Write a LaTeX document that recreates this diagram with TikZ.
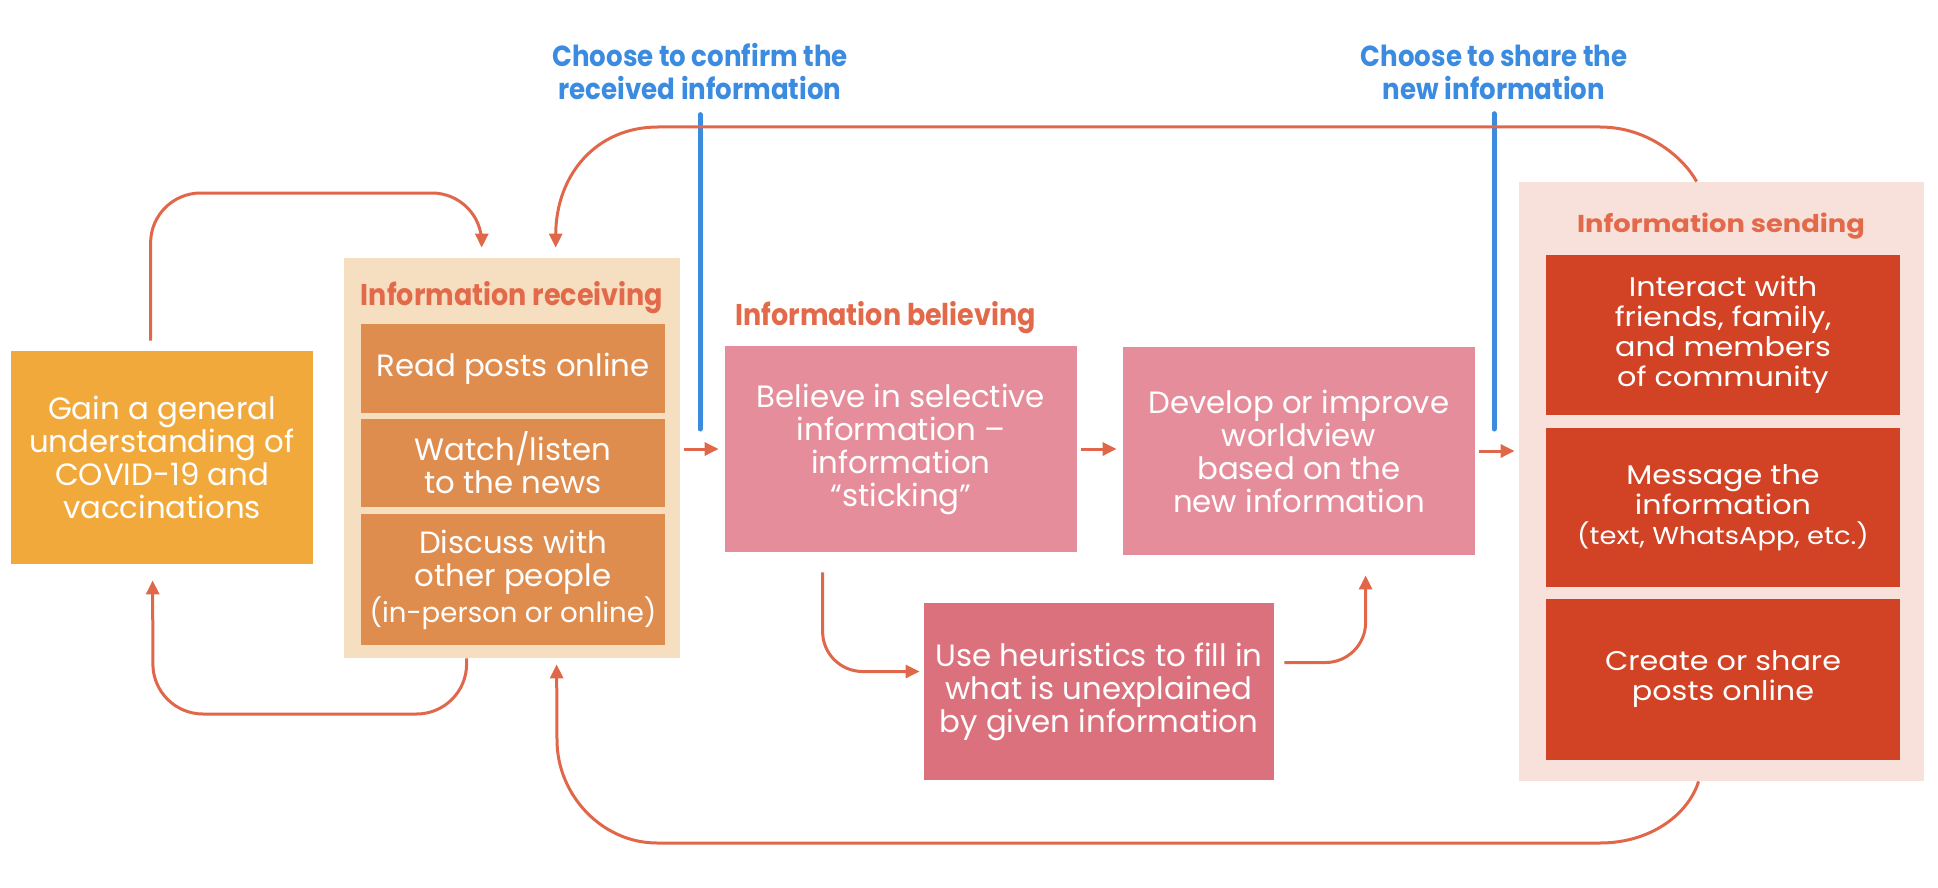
\documentclass[tikz,border=0pt]{standalone}
\usepackage{fontspec}
\setmainfont{Poppins}
\newfontfamily\headfont[FakeStretch=0.9]{Poppins}
\newfontfamily\widefont[FakeStretch=1.12]{Poppins}
\usetikzlibrary{arrows.meta, calc}

\definecolor{gainfill}{HTML}{F2A93B}
\definecolor{recvback}{HTML}{F6DFC0}
\definecolor{recvfill}{HTML}{DF8D4F}
\definecolor{headcol}{HTML}{E26A4B}
\definecolor{believefill}{HTML}{E68D9B}
\definecolor{heurfill}{HTML}{DB717D}
\definecolor{sendback}{HTML}{F8E1DB}
\definecolor{sendfill}{HTML}{D24326}
\definecolor{choosecol}{HTML}{3B8BE0}
\definecolor{flowcol}{HTML}{E0674A}

\tikzset{
  stagebox/.style={inner sep=0pt, align=center, text=white},
  narrowtext/.style={font=\fontsize{15.4}{16.5}\selectfont},
  widetext/.style={font=\widefont\fontsize{13.5}{15}\selectfont},
  stagehead/.style={text=headcol, inner sep=0pt},
  flowline/.style={draw=flowcol, line width=1.5pt},
  flowarrow/.style={flowline, -{Triangle[length=7pt,width=6.5pt]}},
  chooseline/.style={draw=choosecol, line width=2.5pt, line cap=round},
  chooselabel/.style={text=choosecol, align=center, inner sep=0pt,
    font=\headfont\bfseries\fontsize{14.5}{16.5}\selectfont}
}

\begin{document}
\begin{tikzpicture}[x=0.5pt, y=-0.5pt]
  \useasboundingbox (0,0) rectangle (1938,888);

  % background panels
  \fill[recvback] (344,258) rectangle (680,658);
  \fill[sendback] (1519,182) rectangle (1924,781);
  \node[stagehead, font=\headfont\bfseries\fontsize{15}{17}\selectfont] (recvhead) at (512,298) {Information receiving};
  \node[stagehead, font=\headfont\bfseries\fontsize{15}{17}\selectfont, anchor=west] (belhead) at (735,318) {Information believing};
  \node[stagehead, font=\widefont\bfseries\fontsize{12.2}{15}\selectfont] (sendhead) at (1721,226) {Information sending};
  \node[minimum width=168pt, minimum height=200pt, inner sep=0pt] (recv) at (512,458) {};
  \node[minimum width=202.5pt, minimum height=299.5pt, inner sep=0pt] (send) at (1721.5,481.5) {};

  % stages
  \node[stagebox, narrowtext, fill=gainfill, minimum width=151pt, minimum height=106.5pt] (gain) at (162,457.5)
    {Gain a general\\understanding of\\COVID-19 and\\vaccinations};
  \node[stagebox, narrowtext, fill=recvfill, minimum width=152pt, minimum height=44.5pt] (read) at (513,368.5)
    {Read posts online};
  \node[stagebox, narrowtext, fill=recvfill, minimum width=152pt, minimum height=44pt] (watch) at (513,463)
    {Watch/listen\\to the news};
  \node[stagebox, narrowtext, fill=recvfill, minimum width=152pt, minimum height=65.5pt] (discuss) at (513,579.5)
    {Discuss with\\other people\\{\fontsize{13.8}{14}\selectfont (in-person or online)}};
  \node[stagebox, narrowtext, fill=believefill, minimum width=176pt, minimum height=103pt] (believe) at (901,449)
    {Believe in selective\\information –\\information\\“sticking”};
  \node[stagebox, narrowtext, fill=believefill, minimum width=176pt, minimum height=104pt] (develop) at (1299,451)
    {Develop or improve\\worldview\\based on the\\new information};
  \node[stagebox, narrowtext, fill=heurfill, minimum width=175pt, minimum height=88.5pt] (heur) at (1099,691.5)
    {Use heuristics to fill in\\what is unexplained\\by given information};
  \node[stagebox, widetext, fill=sendfill, minimum width=177pt, minimum height=80pt] (interact) at (1723,335)
    {Interact with\\friends, family,\\and members\\of community};
  \node[stagebox, widetext, fill=sendfill, minimum width=177pt, minimum height=79.5pt] (message) at (1723,507.5)
    {Message the\\information\\{\fontsize{12.2}{13}\selectfont (text, WhatsApp, etc.)}};
  \node[stagebox, widetext, fill=sendfill, minimum width=177pt, minimum height=80.5pt] (create) at (1723,679.5)
    {Create or share\\posts online};

  % decision points
  \node[chooselabel] (confirm) at (700,72) {Choose to confirm the\\received information};
  \node[chooselabel] (share) at (1494,72) {Choose to share the\\new information};
  \coordinate (confirmend) at (700,429);
  \coordinate (shareend) at (1494,429);
  \draw[chooseline] ([yshift=-7pt]confirm.south) -- (confirmend);
  \draw[chooseline] ([yshift=-7pt]share.south) -- (shareend);

  % main flow
  \draw[flowarrow, shorten <=2pt, shorten >=3pt] (recv.east |- believe.west) -- (believe.west);
  \draw[flowarrow, shorten <=2pt, shorten >=3pt] (believe.east) -- (believe.east -| develop.west);
  \draw[flowarrow, shorten <=2pt, shorten >=2pt] (develop.east) -- (develop.east -| send.west);
  \draw[flowarrow, rounded corners=20pt, shorten <=10pt, shorten >=2pt]
    ([xshift=49pt]believe.south west) |- ([yshift=10pt]heur.west);
  \draw[flowarrow, rounded corners=20pt, shorten <=5pt, shorten >=10pt]
    ([yshift=14.5pt]heur.east) -| ([xshift=121.5pt]develop.south west);

  % feedback loops
  \draw[flowarrow, rounded corners=25pt, shorten <=5pt, shorten >=5pt]
    ([xshift=70pt]gain.north west) |- (482,193) -- ([xshift=69pt]recv.north west);
  \draw[flowarrow, rounded corners=25pt, shorten >=8pt]
    ([xshift=61.5pt]recv.south west) |- (153,714) -- ([xshift=71pt]gain.south west);
  \draw[flowarrow, shorten >=5pt]
    ([xshift=89pt]send.north west) .. controls (1685,160) and (1650,127) .. (1600,127)
    -- (658,127) .. controls (596,127) and (556,175) .. ([xshift=106pt]recv.north west);
  \draw[flowarrow, shorten >=3pt]
    ([xshift=90pt]send.south west) .. controls (1688,815) and (1650,843) .. (1600,843)
    -- (657,843) .. controls (602,843) and (557,795) .. (557,740) -- ([xshift=106.5pt]recv.south west);
\end{tikzpicture}
\end{document}
